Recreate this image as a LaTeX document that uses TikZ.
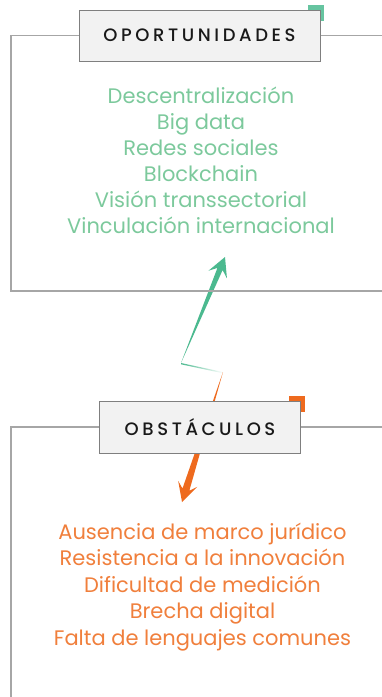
\documentclass[tikz,border=0pt]{standalone}
\usepackage{fontspec}
\setmainfont{Poppins}
\newfontfamily\titlefont[LetterSpace=20,UprightFont=* Medium]{Poppins}
\usetikzlibrary{calc}

\definecolor{oppgreen}{HTML}{4BB98F}
\definecolor{opptext}{HTML}{7CC99C}
\definecolor{obsorange}{HTML}{EE6A1E}
\definecolor{obstext}{HTML}{F07F3C}
\definecolor{framegray}{HTML}{A6A6A6}
\definecolor{boxfill}{HTML}{F2F2F2}
\definecolor{boxline}{HTML}{7F7F7F}

% tapered arrow: colour, start, tip, half width at the head
\newcommand\taperarrow[4]{%
  \fill[#1] (#2)
    -- ($(#3)!13pt!(#2)!#4!90:(#3)$)
    -- ($(#3)!19pt!(#2)!10pt!90:(#3)$)
    -- (#3)
    -- ($(#3)!19pt!(#2)!10pt!-90:(#3)$)
    -- ($(#3)!13pt!(#2)!#4!-90:(#3)$)
    -- cycle;}

\begin{document}
\begin{tikzpicture}[x=1pt, y=-1pt,
    titlebox/.style={draw=boxline, fill=boxfill, line width=1pt, inner sep=0pt,
      font=\titlefont\fontsize{18}{18}\selectfont, text=black!90},
    frameline/.style={draw=framegray, line width=1.2pt},
    listline/.style={anchor=base, inner sep=0pt, font=\fontsize{21}{21}\selectfont}]
    \useasboundingbox (0,0) rectangle (382,697);

    % corner marks
    \fill[oppgreen!85] (308,5) rectangle (324,21);
    \fill[obsorange] (289,396) rectangle (305,412);

    % arrows
    \coordinate (bend) at (223,372);
    \coordinate (gknee) at (181,363);
    \coordinate (gtip) at (225,257);
    \coordinate (otip) at (182,502);
    \shade[left color=oppgreen, right color=white] (gknee) -- (bend) -- ($(bend)+(0,1.3)$) -- ($(gknee)+(0,1.3)$) -- cycle;
    \taperarrow{oppgreen}{gknee}{gtip}{2.8pt}
    \taperarrow{obsorange}{bend}{otip}{3.6pt}

    % title boxes
    \node[titlebox, minimum width=241, minimum height=51] (opbox) at (199.5,35.5) {OPORTUNIDADES};
    \node[titlebox, minimum width=201, minimum height=52] (obbox) at (200,427) {OBSTÁCULOS};

    % frames
    \draw[frameline] (opbox.west) -- (11,35.5) -- (11,291) -- (382,291);
    \draw[frameline] (opbox.east) -- (382,35.5);
    \draw[frameline] (obbox.west) -- (11,427) -- (11,697);
    \draw[frameline] (obbox.east) -- (382,427);

    % lists
    \foreach \txt [count=\i] in {Descentralización, Big data, Redes sociales, Blockchain,
        Visión transsectorial, Vinculación internacional}
      \node[listline, text=opptext] (op\i) at (201,77+26*\i) {\txt};
    \foreach \txt [count=\i] in {Ausencia de marco jurídico, Resistencia a la innovación,
        Dificultad de medición, Brecha digital, Falta de lenguajes comunes}
      \node[listline, text=obstext] (ob\i) at (202.5,512.5+26.5*\i) {\txt};
\end{tikzpicture}
\end{document}
